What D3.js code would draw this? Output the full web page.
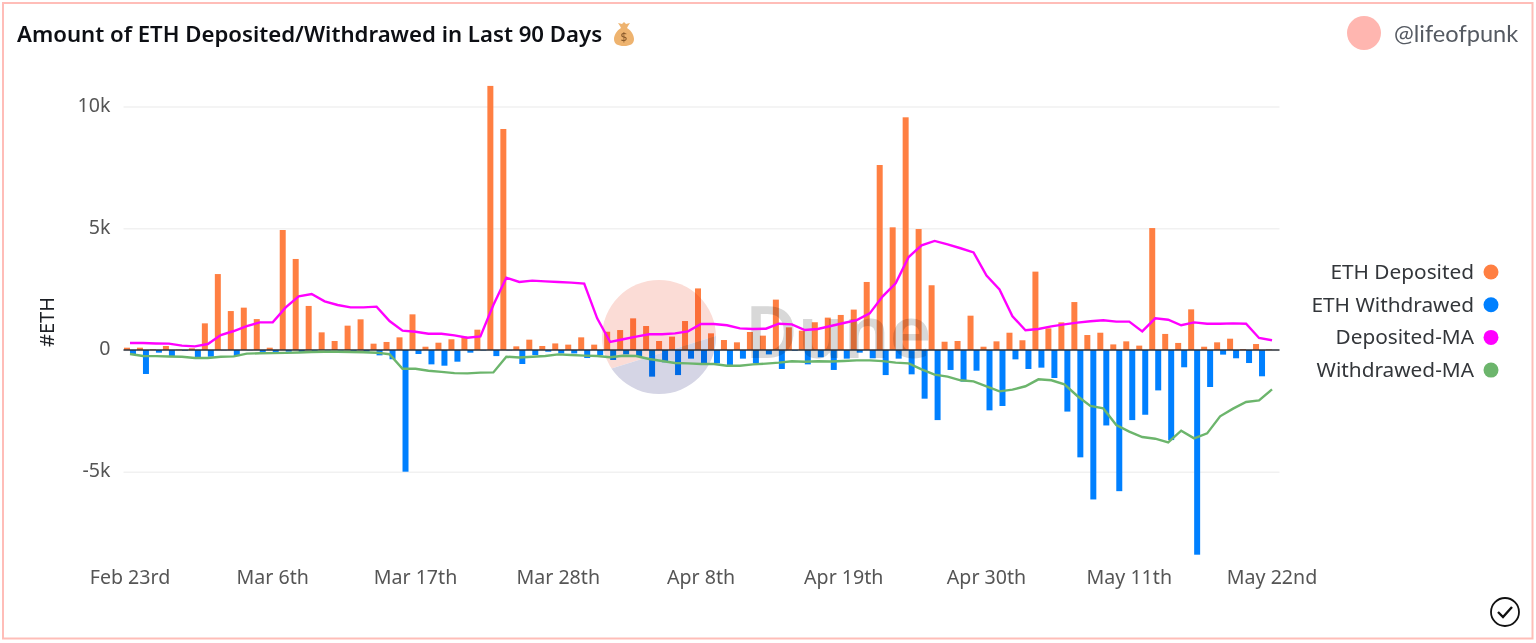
<!DOCTYPE html>
<html lang="en">
<head>
<meta charset="UTF-8">
<title>Amount of ETH Deposited/Withdrawed in Last 90 Days</title>
<script src="https://d3js.org/d3.v7.min.js"></script>
<style>
    * { margin: 0; padding: 0; box-sizing: border-box; }
    body { background: #ffffff; font-family: 'Noto Sans', sans-serif; overflow: hidden; }
    svg { display: block; }
    .axis text { fill: #555555; font-size: 19.6px; font-family: 'Noto Sans', sans-serif; }
    .axis path, .axis line { display: none; }
    .grid line { stroke: #f1f1f1; stroke-width: 1.5; }
    .grid path, .grid text { display: none; }
    .legend text { fill: #33363a; font-size: 20.8px; text-anchor: end; }
</style>
</head>
<body>
<div id="chart"></div>
<script>
const days = [
    "02-23","02-24","02-25","02-26","02-27","02-28",
    "03-01","03-02","03-03","03-04","03-05","03-06","03-07","03-08","03-09","03-10","03-11","03-12","03-13","03-14","03-15","03-16",
    "03-17","03-18","03-19","03-20","03-21","03-22","03-23","03-24","03-25","03-26","03-27","03-28","03-29","03-30","03-31",
    "04-01","04-02","04-03","04-04","04-05","04-06","04-07","04-08","04-09","04-10","04-11","04-12","04-13","04-14","04-15","04-16",
    "04-17","04-18","04-19","04-20","04-21","04-22","04-23","04-24","04-25","04-26","04-27","04-28","04-29","04-30",
    "05-01","05-02","05-03","05-04","05-05","05-06","05-07","05-08","05-09","05-10","05-11","05-12","05-13","05-14","05-15","05-16",
    "05-17","05-18","05-19","05-20","05-21","05-22"
];
const tickDays = ["02-23","03-06","03-17","03-28","04-08","04-19","04-30","05-11","05-22"];
const tickLabels = ["Feb 23rd","Mar 6th","Mar 17th","Mar 28th","Apr 8th","Apr 19th","Apr 30th","May 11th","May 22nd"];
const yTicks = [-5000, 0, 5000, 10000];

const deposited = [
    95,95,30,165,15,70,1095,3120,1600,1740,1270,95,4930,3740,1810,725,370,1000,1260,260,330,520,1465,135,300,440,550,835,10850,9080,
    150,425,165,270,220,520,220,750,820,1300,985,370,550,1190,2530,685,410,315,740,590,2070,930,795,1140,1330,1440,1660,2795,7600,5040,
    9560,4970,2660,340,370,1410,135,355,710,400,3220,890,1135,1970,615,710,230,355,180,5010,660,290,1670,135,315,465,40,245,25
];
const withdrawn = [
    -180,-985,-110,-250,-30,-370,-275,-10,-250,-10,-80,-80,-70,-80,-95,-25,-25,-70,-70,-220,-380,-5000,-165,-590,-645,-480,-110,-20,-250,-15,
    -575,-205,-70,-140,-140,-330,-205,-410,-180,-245,-1095,-505,-1030,-355,-550,-550,-615,-355,-550,-180,-780,-30,-590,-300,-820,-355,-110,-340,-1030,-355,
    -1000,-2000,-2880,-820,-1300,-850,-2480,-2300,-385,-780,-725,-1150,-2530,-4410,-6140,-3100,-5800,-2880,-2660,-1660,-3700,-710,-8410,-1520,-190,-340,-535,-1080,0
];
const depositedMA = [
    290,285,270,260,180,150,245,615,780,985,1135,1135,1750,2205,2300,2000,1850,1750,1750,1780,1190,795,750,670,670,600,505,560,1850,2970,
    2795,2850,2820,2795,2770,2725,1300,330,440,550,645,645,685,765,1070,1070,1015,890,865,875,1080,1055,820,865,985,1110,1230,1505,2205,2740,
    3820,4300,4480,4340,4180,4010,3055,2490,1385,810,865,970,1055,1125,1180,1220,1165,1165,765,1300,1245,1015,1135,1080,1080,1095,1080,495,400
];
const withdrawnMA = [
    -165,-245,-250,-270,-280,-330,-330,-280,-260,-150,-135,-130,-120,-100,-80,-70,-70,-80,-95,-110,-175,-770,-770,-850,-900,-950,-960,-930,-920,-275,
    -310,-275,-245,-180,-205,-230,-245,-300,-235,-245,-370,-450,-535,-550,-575,-575,-645,-645,-590,-560,-520,-465,-480,-465,-470,-450,-425,-425,-455,-520,
    -550,-795,-1015,-1095,-1245,-1290,-1490,-1700,-1630,-1490,-1205,-1245,-1410,-1890,-2300,-2400,-3080,-3355,-3575,-3645,-3795,-3315,-3630,-3425,-2725,-2410,-2135,-2070,-1615
];
const legendNames = ["ETH Deposited", "ETH Withdrawed", "Deposited-MA", "Withdrawed-MA"];
const legendColors = ["#ff7f42", "#0080ff", "#ff00ff", "#6cb56c"];

const W = 1536, H = 643;
const plot = { left: 123.5, right: 1278.5, zero: 350, perK: 24.34 };

const svg = d3.select("#chart").append("svg")
    .attr("width", W)
    .attr("height", H);

// card border
svg.append("rect")
    .attr("x", 3).attr("y", 3)
    .attr("width", 1529.5).attr("height", 635.5)
    .attr("fill", "#fff")
    .attr("stroke", "#ffbdb8")
    .attr("stroke-width", 2);

const x0 = d3.scaleBand()
    .domain(days)
    .range([plot.left, plot.right])
    .paddingInner(0.077)
    .paddingOuter(0.038);

const x1 = d3.scaleBand()
    .domain(["dep", "wit"])
    .range([0, x0.bandwidth()]);

const y = d3.scaleLinear()
    .domain([-8500, 11000])
    .range([plot.zero + 8.5 * plot.perK, plot.zero - 11 * plot.perK]);

const cx = d => x0(d) + x0.bandwidth() / 2;

// Grid
svg.append("g")
    .attr("class", "grid")
    .attr("transform", `translate(${plot.left},0)`)
    .call(d3.axisLeft(y).tickValues(yTicks).tickSize(-(plot.right - plot.left + 1)));

// Bars
svg.append("g").selectAll("rect")
    .data(deposited)
    .join("rect")
    .attr("x", (d, i) => x0(days[i]) + x1("dep"))
    .attr("y", d => y(d))
    .attr("width", x1.bandwidth())
    .attr("height", d => y(0) - y(d))
    .attr("fill", legendColors[0]);

svg.append("g").selectAll("rect")
    .data(withdrawn)
    .join("rect")
    .attr("x", (d, i) => x0(days[i]) + x1("wit"))
    .attr("y", y(0))
    .attr("width", x1.bandwidth())
    .attr("height", d => y(d) - y(0))
    .attr("fill", legendColors[1]);

// Dune watermark, multiplied over the bars
const mark = svg.append("g").style("mix-blend-mode", "multiply");
const clip = svg.append("defs");
clip.append("clipPath").attr("id", "markTop")
    .append("path").attr("d", "M590 270H730V331.5L600 372H590Z");
clip.append("clipPath").attr("id", "markBottom")
    .append("path").attr("d", "M730 331.5V400H590V372L600 372Z");
mark.append("circle")
    .attr("cx", 659).attr("cy", 337).attr("r", 57)
    .attr("fill", "#fbdcd6")
    .attr("clip-path", "url(#markTop)");
mark.append("circle")
    .attr("cx", 659).attr("cy", 337).attr("r", 57)
    .attr("fill", "#d5d5e5")
    .attr("clip-path", "url(#markBottom)");
mark.append("text")
    .attr("x", 745).attr("y", 358)
    .attr("font-size", 72)
    .attr("font-weight", 600)
    .attr("fill", "#d8d8d8")
    .text("Dune");

// Zero line
svg.append("line")
    .attr("x1", plot.left).attr("x2", plot.right + 1)
    .attr("y1", y(0)).attr("y2", y(0))
    .attr("stroke", "#2b3038")
    .attr("stroke-width", 1.5);

// MA lines
const line = d3.line()
    .x((d, i) => cx(days[i]))
    .y(d => y(d));

svg.append("path")
    .datum(depositedMA)
    .attr("d", line)
    .attr("fill", "none")
    .attr("stroke", legendColors[2])
    .attr("stroke-width", 2.4);

svg.append("path")
    .datum(withdrawnMA)
    .attr("d", line)
    .attr("fill", "none")
    .attr("stroke", legendColors[3])
    .attr("stroke-width", 2.4);

// Axes
svg.append("g")
    .attr("class", "axis")
    .attr("transform", `translate(${plot.left - 13},-1.5)`)
    .call(d3.axisLeft(y).tickValues(yTicks).tickSize(0).tickPadding(0)
        .tickFormat(d => d === 0 ? "0" : `${d / 1000}k`));

svg.append("g")
    .attr("class", "axis")
    .attr("transform", "translate(0,567)")
    .call(d3.axisBottom(x0).tickValues(tickDays).tickSize(0).tickPadding(3)
        .tickFormat(d => tickLabels[tickDays.indexOf(d)]));

svg.append("text")
    .attr("transform", "translate(54,322) rotate(-90)")
    .attr("text-anchor", "middle")
    .attr("font-size", 20)
    .attr("fill", "#1c1f24")
    .text("#ETH");

// Title and owner
svg.append("text")
    .attr("x", 17).attr("y", 42)
    .attr("font-size", 22.2)
    .attr("font-weight", 600)
    .attr("fill", "#0d0f14")
    .text("Amount of ETH Deposited/Withdrawed in Last 90 Days");

const bag = svg.append("g").attr("transform", "translate(624,35)");
bag.append("path")
    .attr("d", "M-4 -9L-6 -12L-2 -11L0 -13L2 -11L6 -12L4 -9L3 -7C8 -4 10 1 10 4C10 9 6 11 0 11C-6 11 -10 9 -10 4C-10 1 -8 -4 -3 -7Z")
    .attr("fill", "#eeb36f");
bag.append("text")
    .attr("y", 7).attr("text-anchor", "middle")
    .attr("font-size", 12).attr("fill", "#8a5a2b")
    .text("$");

svg.append("circle")
    .attr("cx", 1364).attr("cy", 33).attr("r", 17)
    .attr("fill", "#ffb6b0");
svg.append("text")
    .attr("x", 1394).attr("y", 42)
    .attr("font-family", "Lato, sans-serif")
    .attr("font-size", 23.6)
    .attr("fill", "#555a62")
    .text("@lifeofpunk");

// Legend
const legend = svg.append("g").attr("class", "legend");
legendNames.forEach((name, i) => {
    const row = legend.append("g")
        .attr("transform", `translate(0,${272 + i * 32.7})`);
    row.append("text").attr("x", 1474).attr("y", 7).text(name);
    row.append("circle").attr("cx", 1491).attr("cy", 0).attr("r", 7.5).attr("fill", legendColors[i]);
});

// Check mark badge
const badge = svg.append("g").attr("transform", "translate(1505,612)");
badge.append("circle")
    .attr("r", 14).attr("fill", "none")
    .attr("stroke", "#111").attr("stroke-width", 1.8);
badge.append("path")
    .attr("d", "M-7 0L-2 5L7 -5")
    .attr("fill", "none")
    .attr("stroke", "#111").attr("stroke-width", 2.4);
</script>
</body>
</html>
